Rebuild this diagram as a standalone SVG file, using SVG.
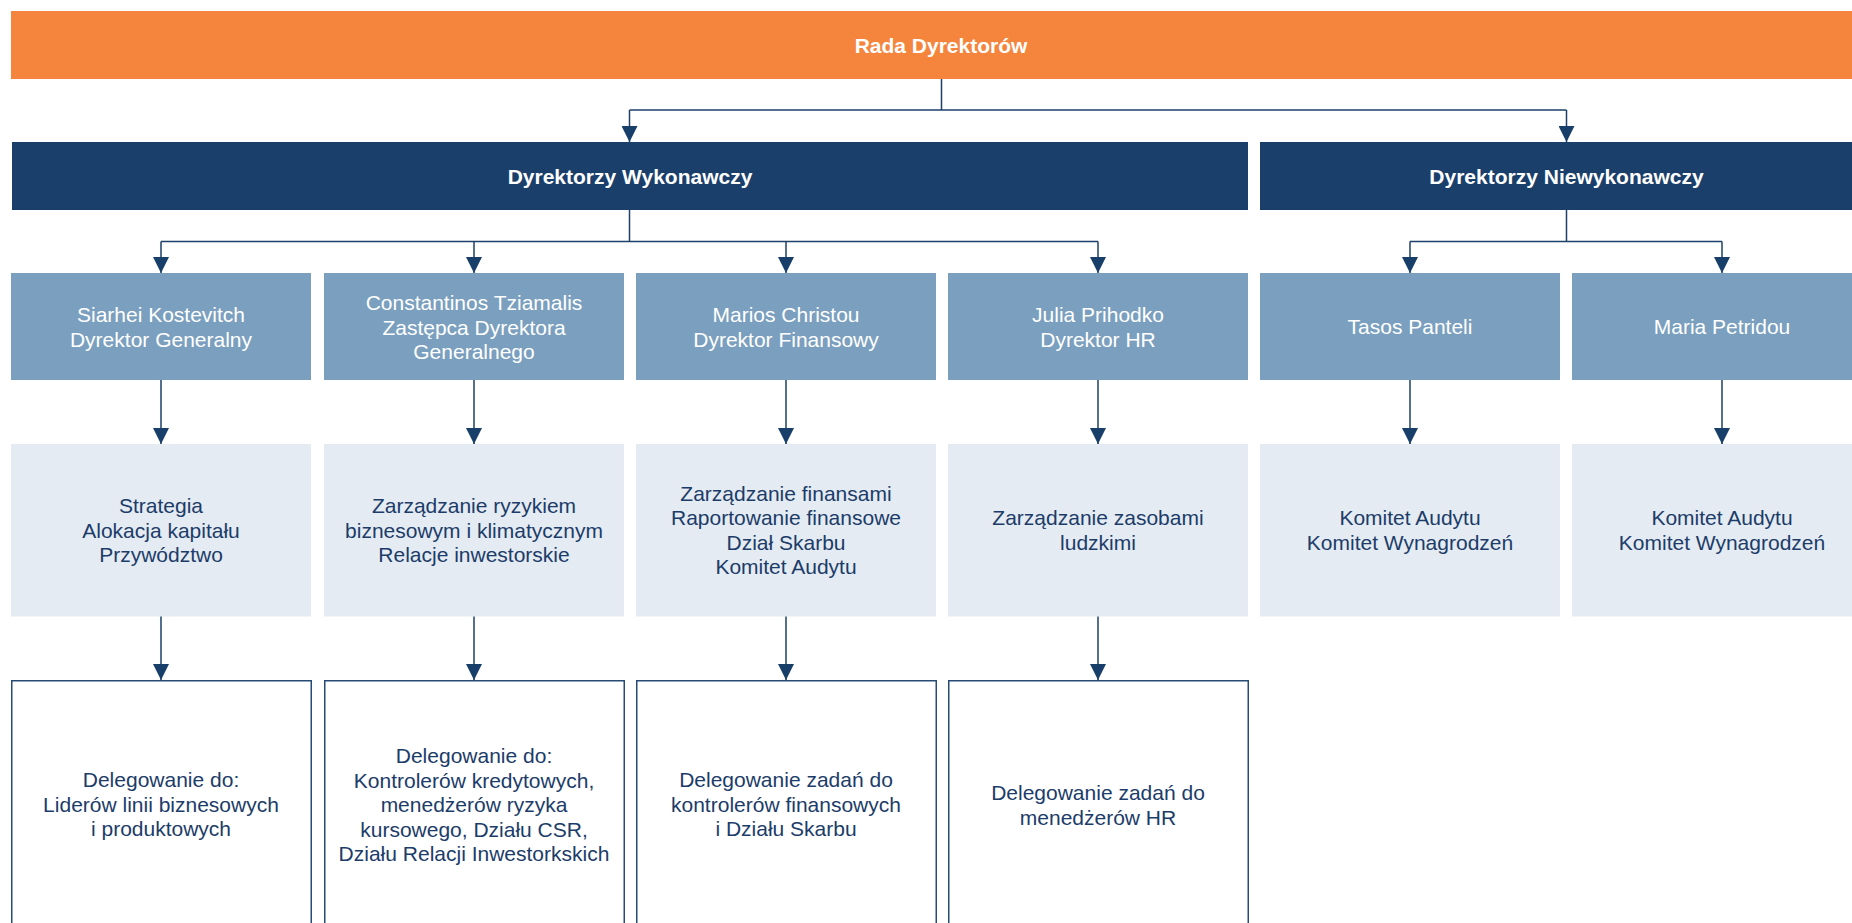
<svg xmlns="http://www.w3.org/2000/svg" width="1852" height="923" viewBox="0 0 1852 923">
<defs>
<marker id="ah" markerUnits="userSpaceOnUse" markerWidth="16" markerHeight="16" viewBox="0 0 15 15" refX="15" refY="7.5" orient="auto">
<path d="M0,0 L15,7.5 L0,15 Z" fill="#173F69"/>
</marker>
<style>
.orange{fill:#F5853D}
.navy{fill:#1B3F6B}
.mid{fill:#7B9FBE}
.light{fill:#E4EBF2}
.white{fill:#FFFFFF;stroke:#264B75;stroke-width:1.5}
.tb{font-family:"Liberation Sans",Arial,sans-serif;font-size:21px;font-weight:bold;fill:#FFFFFF;text-anchor:middle}
.tw{font-family:"Liberation Sans",Arial,sans-serif;font-size:21px;fill:#FFFFFF;text-anchor:middle}
.td{font-family:"Liberation Sans",Arial,sans-serif;font-size:21px;fill:#1C3C69;text-anchor:middle}
.c{fill:none;stroke:#1D4169;stroke-width:1.5}
.ca{fill:none;stroke:#1D4169;stroke-width:1.5;marker-end:url(#ah)}
</style>
</defs>
<rect width="1852" height="923" fill="#FFFFFF"/>

<g id="rada">
<rect class="orange" x="11" y="11" width="1860" height="68"/>
<text class="tb" x="941" y="52.5">Rada Dyrektorów</text>
</g>

<g id="wykonawczy">
<rect class="navy" x="12" y="142" width="1236" height="68"/>
<text class="tb" x="630" y="183.5">Dyrektorzy Wykonawczy</text>
</g>
<g id="niewykonawczy">
<rect class="navy" x="1260" y="142" width="612" height="68"/>
<text class="tb" x="1566.5" y="183.5">Dyrektorzy Niewykonawczy</text>
</g>

<g id="kostevitch">
<rect class="mid" x="11" y="273" width="300" height="107"/>
<text class="tw" x="161" y="322">Siarhei Kostevitch</text>
<text class="tw" x="161" y="346.5">Dyrektor Generalny</text>
</g>
<g id="tziamalis">
<rect class="mid" x="324" y="273" width="300" height="107"/>
<text class="tw" x="474" y="310">Constantinos Tziamalis</text>
<text class="tw" x="474" y="334.5">Zastępca Dyrektora</text>
<text class="tw" x="474" y="359">Generalnego</text>
</g>
<g id="christou">
<rect class="mid" x="636" y="273" width="300" height="107"/>
<text class="tw" x="786" y="322">Marios Christou</text>
<text class="tw" x="786" y="346.5">Dyrektor Finansowy</text>
</g>
<g id="prihodko">
<rect class="mid" x="948" y="273" width="300" height="107"/>
<text class="tw" x="1098" y="322">Julia Prihodko</text>
<text class="tw" x="1098" y="346.5">Dyrektor HR</text>
</g>
<g id="panteli">
<rect class="mid" x="1260" y="273" width="300" height="107"/>
<text class="tw" x="1410" y="334">Tasos Panteli</text>
</g>
<g id="petridou">
<rect class="mid" x="1572" y="273" width="300" height="107"/>
<text class="tw" x="1722" y="334">Maria Petridou</text>
</g>

<g id="obowiazki-1">
<rect class="light" x="11" y="444" width="300" height="172.5"/>
<text class="td" x="161" y="513">Strategia</text>
<text class="td" x="161" y="537.5">Alokacja kapitału</text>
<text class="td" x="161" y="562">Przywództwo</text>
</g>
<g id="obowiazki-2">
<rect class="light" x="324" y="444" width="300" height="172.5"/>
<text class="td" x="474" y="513">Zarządzanie ryzykiem</text>
<text class="td" x="474" y="537.5">biznesowym i klimatycznym</text>
<text class="td" x="474" y="562">Relacje inwestorskie</text>
</g>
<g id="obowiazki-3">
<rect class="light" x="636" y="444" width="300" height="172.5"/>
<text class="td" x="786" y="500.5">Zarządzanie finansami</text>
<text class="td" x="786" y="525">Raportowanie finansowe</text>
<text class="td" x="786" y="549.5">Dział Skarbu</text>
<text class="td" x="786" y="574">Komitet Audytu</text>
</g>
<g id="obowiazki-4">
<rect class="light" x="948" y="444" width="300" height="172.5"/>
<text class="td" x="1098" y="525">Zarządzanie zasobami</text>
<text class="td" x="1098" y="549.5">ludzkimi</text>
</g>
<g id="obowiazki-5">
<rect class="light" x="1260" y="444" width="300" height="172.5"/>
<text class="td" x="1410" y="525">Komitet Audytu</text>
<text class="td" x="1410" y="549.5">Komitet Wynagrodzeń</text>
</g>
<g id="obowiazki-6">
<rect class="light" x="1572" y="444" width="300" height="172.5"/>
<text class="td" x="1722" y="525">Komitet Audytu</text>
<text class="td" x="1722" y="549.5">Komitet Wynagrodzeń</text>
</g>

<g id="delegowanie-1">
<rect class="white" x="11.75" y="680.75" width="299.5" height="260"/>
<text class="td" x="161" y="787">Delegowanie do:</text>
<text class="td" x="161" y="811.5">Liderów linii biznesowych</text>
<text class="td" x="161" y="836">i produktowych</text>
</g>
<g id="delegowanie-2">
<rect class="white" x="324.75" y="680.75" width="299.5" height="260"/>
<text class="td" x="474" y="763">Delegowanie do:</text>
<text class="td" x="474" y="787.5">Kontrolerów kredytowych,</text>
<text class="td" x="474" y="812">menedżerów ryzyka</text>
<text class="td" x="474" y="836.5">kursowego, Działu CSR,</text>
<text class="td" x="474" y="861">Działu Relacji Inwestorkskich</text>
</g>
<g id="delegowanie-3">
<rect class="white" x="636.75" y="680.75" width="299.5" height="260"/>
<text class="td" x="786" y="787">Delegowanie zadań do</text>
<text class="td" x="786" y="811.5">kontrolerów finansowych</text>
<text class="td" x="786" y="836">i Działu Skarbu</text>
</g>
<g id="delegowanie-4">
<rect class="white" x="948.75" y="680.75" width="299.5" height="260"/>
<text class="td" x="1098" y="800">Delegowanie zadań do</text>
<text class="td" x="1098" y="824.5">menedżerów HR</text>
</g>

<g id="connectors">
<path class="c" d="M941.5,79 V110 M629.5,110 H1566.5"/>
<path class="ca" d="M629.5,110 V142"/>
<path class="ca" d="M1566.5,110 V142"/>
<path class="c" d="M629.5,210 V241.5 M161,241.5 H1098"/>
<path class="ca" d="M161,241.5 V273"/>
<path class="ca" d="M474,241.5 V273"/>
<path class="ca" d="M786,241.5 V273"/>
<path class="ca" d="M1098,241.5 V273"/>
<path class="c" d="M1566.5,210 V241.5 M1410,241.5 H1722"/>
<path class="ca" d="M1410,241.5 V273"/>
<path class="ca" d="M1722,241.5 V273"/>
<path class="ca" d="M161,380 V444"/>
<path class="ca" d="M474,380 V444"/>
<path class="ca" d="M786,380 V444"/>
<path class="ca" d="M1098,380 V444"/>
<path class="ca" d="M1410,380 V444"/>
<path class="ca" d="M1722,380 V444"/>
<path class="ca" d="M161,616.5 V680"/>
<path class="ca" d="M474,616.5 V680"/>
<path class="ca" d="M786,616.5 V680"/>
<path class="ca" d="M1098,616.5 V680"/>
</g>
</svg>
